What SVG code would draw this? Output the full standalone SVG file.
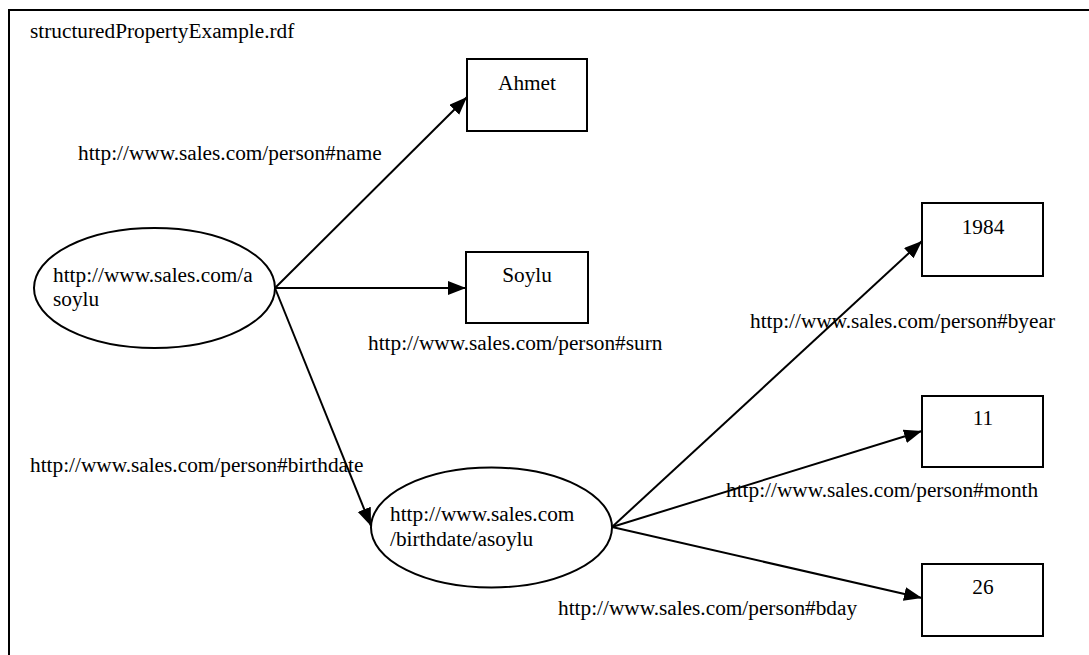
<svg xmlns="http://www.w3.org/2000/svg" width="1089" height="655" viewBox="0 0 1089 655">
<style>
text{font-family:"Liberation Serif","Times New Roman",serif;font-size:21.3px;fill:#000}
.n{fill:#fff;stroke:#000;stroke-width:2}
.c{stroke:#000;stroke-width:2;fill:none}
.m{text-anchor:middle}
</style>
<defs>
<marker id="a" markerUnits="userSpaceOnUse" markerWidth="20" markerHeight="16" refX="18" refY="7" orient="auto">
<path d="M0,0 L18,7 L0,14 z" fill="#000"/>
</marker>
</defs>
<rect width="1089" height="655" fill="#fff"/>
<path d="M9,655 V10 H1089" class="c" stroke-width="2.5"/>
<text x="30" y="38">structuredPropertyExample.rdf</text>
<g id="connectors">
<line x1="275" y1="288" x2="467" y2="97" class="c" marker-end="url(#a)"/>
<line x1="275" y1="288" x2="466" y2="288" class="c" marker-end="url(#a)"/>
<line x1="275" y1="288" x2="371" y2="526" class="c" marker-end="url(#a)"/>
<line x1="612" y1="527" x2="922" y2="241" class="c" marker-end="url(#a)"/>
<line x1="612" y1="527" x2="922" y2="431" class="c" marker-end="url(#a)"/>
<line x1="612" y1="527" x2="922" y2="598" class="c" marker-end="url(#a)"/>
<text x="78" y="160">http://www.sales.com/person#name</text>
<text x="368" y="350">http://www.sales.com/person#surn</text>
<text x="30" y="472">http://www.sales.com/person#birthdate</text>
<text x="750" y="328">http://www.sales.com/person#byear</text>
<text x="726" y="497">http://www.sales.com/person#month</text>
<text x="558" y="615">http://www.sales.com/person#bday</text>
</g>
<g id="asoylu">
<ellipse cx="154.5" cy="288" rx="120.5" ry="60" class="n"/>
<text x="53" y="282">http://www.sales.com/a</text>
<text x="53" y="306">soylu</text>
</g>
<g id="birthdate">
<ellipse cx="491.5" cy="527.5" rx="120.5" ry="60" class="n"/>
<text x="390" y="521">http://www.sales.com</text>
<text x="390" y="546">/birthdate/asoylu</text>
</g>
<g id="ahmet">
<rect x="467" y="59" width="120" height="72" class="n"/>
<text x="527" y="90" class="m">Ahmet</text>
</g>
<g id="soylu">
<rect x="466" y="252" width="122" height="71" class="n"/>
<text x="527" y="282" class="m">Soylu</text>
</g>
<g id="y1984">
<rect x="922" y="203" width="121" height="73" class="n"/>
<text x="983" y="234" class="m">1984</text>
</g>
<g id="m11">
<rect x="922" y="396" width="121" height="71" class="n"/>
<text x="983" y="425" class="m">11</text>
</g>
<g id="d26">
<rect x="922" y="564" width="121" height="72" class="n"/>
<text x="983" y="594" class="m">26</text>
</g>
</svg>
